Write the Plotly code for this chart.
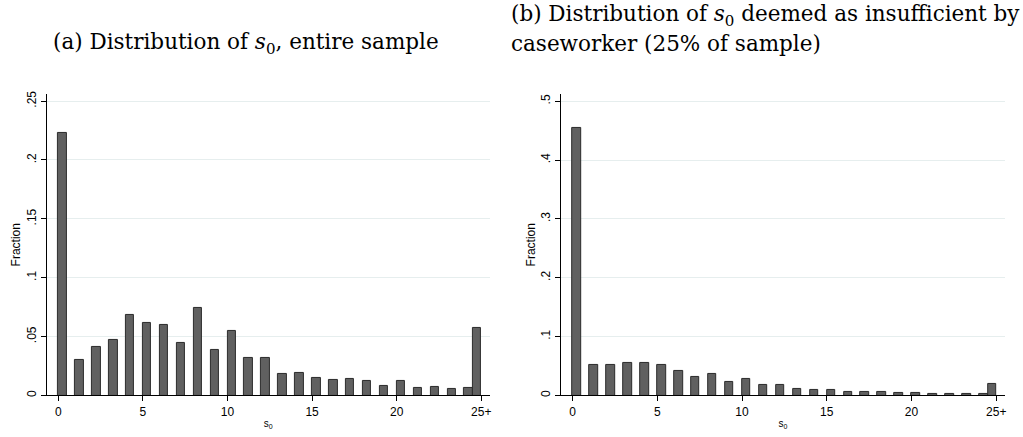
import plotly.graph_objects as go

# s0 categories: 0..24 and a pooled "25+" bin
categories = list(range(25)) + ["25+"]

# Fraction of observations in each s0 bin
frac_all = [0.223, 0.030, 0.041, 0.047, 0.068, 0.062, 0.060, 0.045, 0.0745, 0.039,
            0.0545, 0.032, 0.0315, 0.018, 0.019, 0.015, 0.0135, 0.0143, 0.012, 0.008,
            0.0126, 0.0064, 0.007, 0.0053, 0.0062, 0.057]
frac_insufficient = [0.454, 0.051, 0.0526, 0.055, 0.055, 0.0515, 0.0414, 0.031, 0.0358, 0.023,
                     0.0286, 0.018, 0.018, 0.0112, 0.0095, 0.009, 0.0067, 0.0056, 0.0062, 0.0045,
                     0.005, 0.0034, 0.0028, 0.0034, 0.0034, 0.0196]

x_tickvals = [0, 5, 10, 15, 20, 25]
x_ticktext = ["0", "5", "10", "15", "20", "25+"]
y_ticks_a = [0, 0.05, 0.10, 0.15, 0.20, 0.25]
y_ticktext_a = ["0", ".05", ".1", ".15", ".2", ".25"]
y_ticks_b = [0, 0.1, 0.2, 0.3, 0.4, 0.5]
y_ticktext_b = ["0", ".1", ".2", ".3", ".4", ".5"]

BAR_W = 0.5


def bar_centers(cats):
    # each bin starts at its integer value; the pooled bin sits just left of 25
    out = []
    for c in cats:
        if c == "25+":
            out.append(25 - BAR_W / 2)
        else:
            out.append(c + BAR_W / 2)
    return out


centers = bar_centers(categories)
bar_style = dict(marker=dict(color="#606060", line=dict(color="#2b2b2b", width=1)),
                 width=BAR_W, showlegend=False, hoverinfo="skip")

fig = go.Figure()
fig.add_trace(go.Bar(x=centers, y=frac_all, xaxis="x", yaxis="y", **bar_style))
fig.add_trace(go.Bar(x=centers, y=frac_insufficient, xaxis="x2", yaxis="y2", **bar_style))

tick_font = dict(family="Liberation Sans, Arial, sans-serif", size=12, color="#000")
grid_col = "#e6eeee"

xcommon = dict(tickvals=x_tickvals, ticktext=x_ticktext, range=[-0.67, 25.5],
               showline=True, linecolor="#000", linewidth=1, ticks="outside",
               ticklen=5, tickcolor="#000", showgrid=False, zeroline=False,
               tickfont=tick_font,
               title=dict(text="s<sub>0</sub>", font=dict(family="Liberation Sans, Arial", size=10, color="#000"),
                          standoff=2))
ycommon = dict(showline=True, linecolor="#000", linewidth=1, ticks="outside",
               ticklen=5, tickcolor="#000", showgrid=True, gridcolor=grid_col,
               gridwidth=1, zeroline=False, tickangle=-90, tickfont=tick_font,
               title=dict(text="Fraction", font=dict(family="Liberation Sans, Arial", size=12, color="#000"),
                          standoff=1))

y_bot = 1 - 397 / 437
y_top = 1 - 92 / 437

fig.update_layout(
    width=1023, height=437,
    margin=dict(l=0, r=0, t=0, b=0),
    paper_bgcolor="white", plot_bgcolor="white",
    bargap=0,
    xaxis=dict(domain=[47 / 1023, 490.7 / 1023], anchor="y", **xcommon),
    yaxis=dict(domain=[y_bot, y_top], anchor="x", range=[0, 0.2561],
               tickvals=y_ticks_a, ticktext=y_ticktext_a, **ycommon),
    xaxis2=dict(domain=[562.3 / 1023, 1006.7 / 1023], anchor="y2", **xcommon),
    yaxis2=dict(domain=[y_bot, y_top], anchor="x2", range=[0, 0.5123],
                tickvals=y_ticks_b, ticktext=y_ticktext_b, **ycommon),
)

title_font = dict(family="DejaVu Serif, serif", size=21.5, color="#000")
fig.add_annotation(text="(a) Distribution of <i>s</i><sub>0</sub>, entire sample",
                   xref="paper", yref="paper", x=246.5 / 1023, y=1 - 41 / 437,
                   xanchor="center", yanchor="middle", showarrow=False, font=title_font)
fig.add_annotation(text="(b) Distribution of <i>s</i><sub>0</sub> deemed as insufficient by",
                   xref="paper", yref="paper", x=510 / 1023, y=1 - 13 / 437,
                   xanchor="left", yanchor="middle", showarrow=False, font=title_font)
fig.add_annotation(text="caseworker (25% of sample)",
                   xref="paper", yref="paper", x=510 / 1023, y=1 - 41 / 437,
                   xanchor="left", yanchor="middle", showarrow=False, font=title_font)

fig.write_html("out.html")
